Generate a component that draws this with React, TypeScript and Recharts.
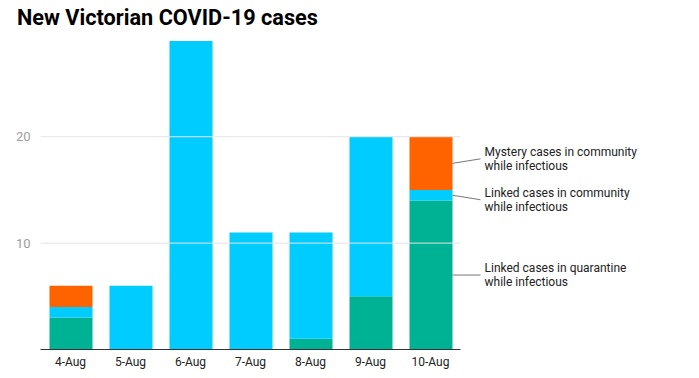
import { Bar, BarChart, ReferenceLine, XAxis, YAxis } from 'recharts'

const DATES = ['4-Aug', '5-Aug', '6-Aug', '7-Aug', '8-Aug', '9-Aug', '10-Aug']
const QUARANTINE = [3, 0, 0, 0, 1, 5, 14]
const COMMUNITY = [1, 6, 29, 11, 10, 15, 1]
const MYSTERY = [2, 0, 0, 0, 0, 0, 5]
const Y_TICKS = [10, 20]

const SERIES = [
  { key: 'quarantine', values: QUARANTINE, color: '#00b294', lines: ['Linked cases in quarantine', 'while infectious'], shift: 0 },
  { key: 'community', values: COMMUNITY, color: '#00ccff', lines: ['Linked cases in community', 'while infectious'], shift: 4.5 },
  { key: 'mystery', values: MYSTERY, color: '#ff6300', lines: ['Mystery cases in community', 'while infectious'], shift: -4.5 },
]

const data = DATES.map((date, i) => ({
  date,
  quarantine: QUARANTINE[i],
  community: COMMUNITY[i],
  mystery: MYSTERY[i],
}))

const FONT = 'Roboto, "Noto Sans", sans-serif'

// zero-height bars get no label, so the last drawn label is at (non-zero count - 1)
function sideLabel(values: number[], lines: string[], shift: number) {
  const lastIdx = values.filter((v) => v !== 0).length - 1
  return (props: any) => {
    const { x, y, width, height, index, payload } = props
    const isLast = payload && payload.date ? payload.date === DATES[DATES.length - 1] : index === lastIdx
    if (!isLast) return <g />
    const x0 = Number(x) + Number(width)
    const y0 = Number(y) + Number(height) / 2
    const ty = y0 + shift
    return (
      <g>
        <line x1={x0} y1={y0} x2={x0 + 28} y2={ty} stroke="#777" strokeWidth={1} />
        {lines.map((line, k) => (
          <text
            key={line}
            x={x0 + 32}
            y={ty + (k - 0.5) * 14}
            dy="0.35em"
            fontSize={12}
            fontFamily={FONT}
            fill="#222"
          >
            {line}
          </text>
        ))}
      </g>
    )
  }
}

export default function App() {
  return (
    <div style={{ position: 'absolute', left: 0, top: 0, width: 699, height: 378, background: '#fff' }}>
      <div
        style={{
          position: 'absolute',
          left: 17,
          top: 4,
          fontFamily: FONT,
          fontWeight: 700,
          fontSize: 21.7,
          color: '#000',
          lineHeight: '28px',
        }}
      >
        New Victorian COVID-19 cases
      </div>
      <BarChart
        width={699}
        height={378}
        data={data}
        margin={{ top: 41, right: 238.5, bottom: 0, left: 0.5 }}
        barSize={43}
      >
        {Y_TICKS.map((t) => (
          <ReferenceLine key={t} y={t} stroke="#e4e4e4" ifOverflow="extendDomain" />
        ))}
        <XAxis
          dataKey="date"
          height={28.5}
          tickLine={false}
          axisLine={{ stroke: '#333' }}
          tick={{ fontSize: 12, fontFamily: FONT, fill: '#222' }}
        />
        <YAxis
          width={40}
          domain={[0, 29]}
          ticks={Y_TICKS}
          tickLine={false}
          axisLine={false}
          tickMargin={4}
          tick={{ fontSize: 13, fontFamily: FONT, fill: '#9e9e9e' }}
        />
        {SERIES.map((s) => (
          <Bar
            key={s.key}
            dataKey={s.key}
            stackId="a"
            fill={s.color}
            isAnimationActive={false}
            label={sideLabel(s.values, s.lines, s.shift)}
          />
        ))}
      </BarChart>
    </div>
  )
}
